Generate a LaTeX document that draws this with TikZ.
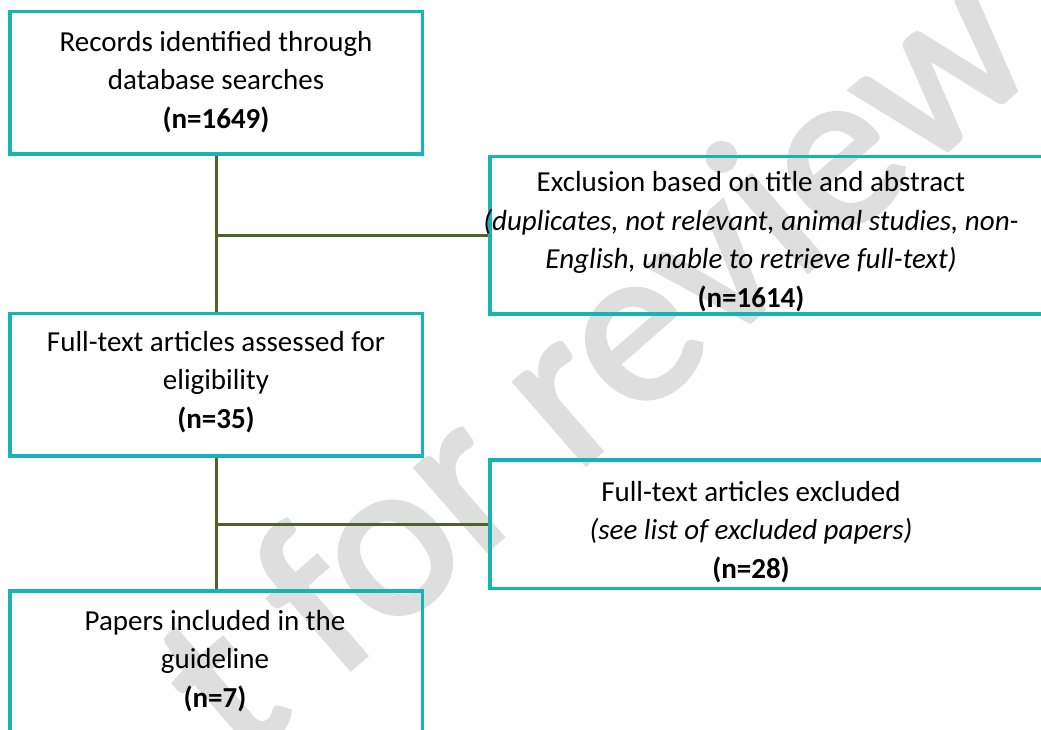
\documentclass[tikz,border=0pt]{standalone}
\usepackage{fontspec}
\setmainfont{Carlito}
\newfontfamily\wmfont{Carlito}[FakeBold=2]
\definecolor{boxteal}{RGB}{22,180,180}
\definecolor{linkolive}{RGB}{79,98,40}
\definecolor{wmgray}{RGB}{222,222,222}
\begin{document}
\begin{tikzpicture}[x=1pt,y=-1pt,
  box/.style={draw=boxteal, line width=3.4pt, rectangle, inner sep=0pt},
  txt/.style={align=center, font=\fontsize{29}{38.5}\selectfont, inner sep=0pt, anchor=base},
  link/.style={draw=linkolive, line width=2.6pt}]
\useasboundingbox (0,0) rectangle (1041,729);
\clip (0,0) rectangle (1041,729);

% background watermark
\node[rotate=41, anchor=base west, inner sep=0pt, text=wmgray,
      font=\wmfont\fontsize{228}{228}\selectfont] (wm) at (240,765) {t for review};

% left column
\node[box, minimum width=412.7pt, minimum height=142.3pt] (b1) at (216.3,82.8) {};
\node[box, minimum width=412.7pt, minimum height=142.7pt] (b3) at (216.3,384.6) {};
\node[box, minimum width=412.7pt, minimum height=180pt] (b5) at (216.3,681) {};

% right column (runs past the right edge)
\node[box, minimum width=580pt, minimum height=157.3pt] (b2) at (780,235.3) {};
\node[box, minimum width=580pt, minimum height=128.3pt] (b4) at (780,524.2) {};

% texts (anchored on the baseline of their last line)
\node[txt] (t1) at (216,128) {Records identified through\\database searches\\\textbf{(n=1649)}};
\node[txt] (t2) at (751,307) {Exclusion based on title and abstract\\\textit{(duplicates, not relevant, animal studies, non-}\\\textit{English, unable to retrieve full-text)}\\\textbf{(n=1614)}};
\node[txt] (t3) at (216,428) {Full-text articles assessed for\\eligibility\\\textbf{(n=35)}};
\node[txt] (t4) at (751,578) {Full-text articles excluded\\\textit{(see list of excluded papers)}\\\textbf{(n=28)}};
\node[txt] (t5) at (215,707) {Papers included in the\\guideline\\\textbf{(n=7)}};

% connectors
\draw[link] (b1.south) -- (b3.north);
\draw[link] (b1.south |- b2.west) -- (b2.west);
\draw[link] (b3.south) -- (b5.north);
\draw[link] (b3.south |- b4.west) -- (b4.west);
\end{tikzpicture}
\end{document}
